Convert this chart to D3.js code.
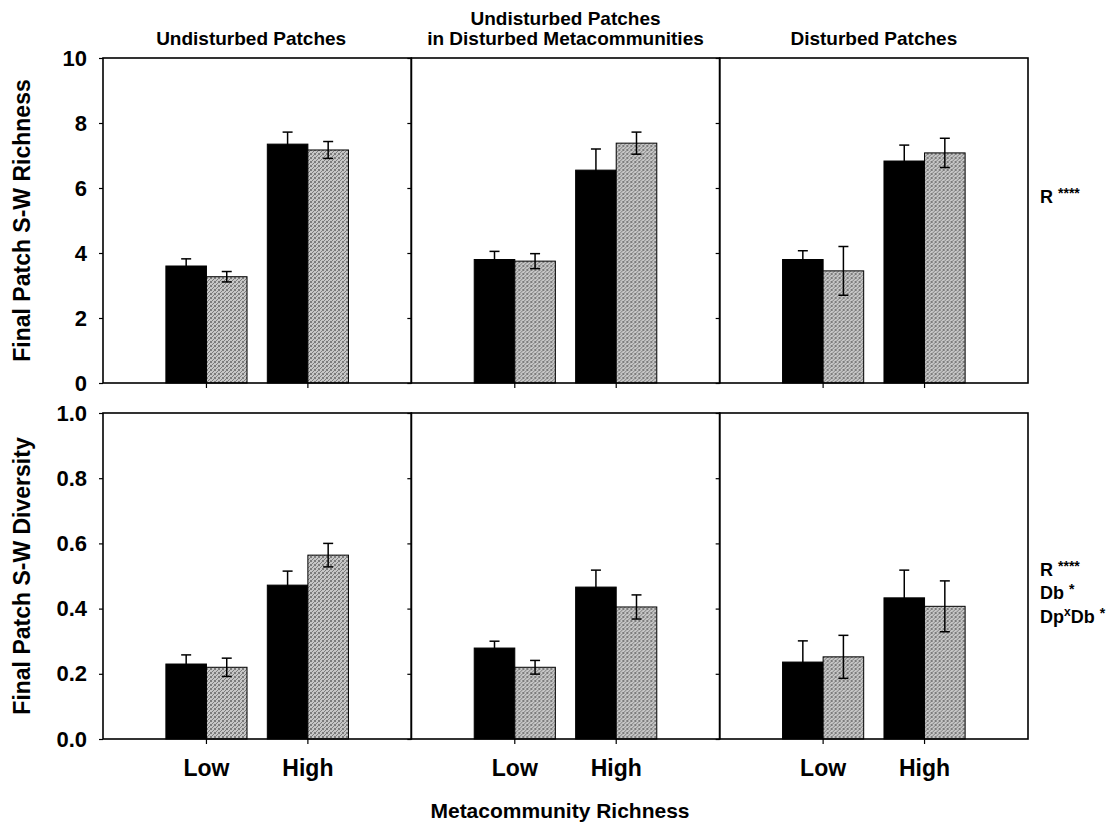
<!DOCTYPE html>
<html>
<head>
<meta charset="utf-8">
<script src="https://cdn.jsdelivr.net/npm/d3@7/dist/d3.min.js"></script>
<style>
  html, body { margin: 0; padding: 0; background: #fff; }
  svg text { font-family: "Liberation Sans", Arial, sans-serif; font-weight: bold; fill: #000; }
</style>
</head>
<body>
<svg id="chart" width="1119" height="827"></svg>
<script>
// ---------- DATA ----------
const panelTitles = [
  ["Undisturbed Patches"],
  ["Undisturbed Patches", "in Disturbed Metacommunities"],
  ["Disturbed Patches"]
];
const categories = ["Low", "High"];
const seriesKeys = ["black", "gray"];

// Final Patch S-W Richness, per panel [Low, High]
const richnessBlack    = [[3.60, 7.35], [3.80, 6.55], [3.80, 6.83]];
const richnessBlackErr = [[0.22, 0.37], [0.25, 0.65], [0.27, 0.49]];
const richnessGray     = [[3.27, 7.17], [3.75, 7.38], [3.45, 7.08]];
const richnessGrayErr  = [[0.16, 0.26], [0.23, 0.34], [0.75, 0.45]];

// Final Patch S-W Diversity, per panel [Low, High]
const diversityBlack    = [[0.230, 0.472], [0.279, 0.466], [0.236, 0.433]];
const diversityBlackErr = [[0.028, 0.043], [0.021, 0.052], [0.065, 0.085]];
const diversityGray     = [[0.220, 0.564], [0.220, 0.405], [0.252, 0.407]];
const diversityGrayErr  = [[0.028, 0.036], [0.021, 0.037], [0.066, 0.078]];

const richnessTicks = [0, 2, 4, 6, 8, 10];
const diversityTicks = [0, 0.2, 0.4, 0.6, 0.8, 1.0];

const yLabels = ["Final Patch S-W Richness", "Final Patch S-W Diversity"];
const xTitle = "Metacommunity Richness";

// ---------- LAYOUT ----------
const svg = d3.select("#chart");
const left = 103, right = 1028;
const pw = (right - left) / 3;
const rows = [
  { top: 58, h: 325, domain: [0, 10], ticks: richnessTicks, fmt: d3.format("d"),
    black: richnessBlack, blackErr: richnessBlackErr, gray: richnessGray, grayErr: richnessGrayErr, showX: false },
  { top: 413, h: 326, domain: [0, 1], ticks: diversityTicks, fmt: d3.format(".1f"),
    black: diversityBlack, blackErr: diversityBlackErr, gray: diversityGray, grayErr: diversityGrayErr, showX: true }
];

// stipple pattern for gray bars
const defs = svg.append("defs");
const pat = defs.append("pattern").attr("id", "stipple").attr("patternUnits", "userSpaceOnUse")
  .attr("width", 4).attr("height", 4);
pat.append("rect").attr("width", 4).attr("height", 4).attr("fill", "#c6c6c6");
[[0,0],[2,1],[1,2],[3,3],[3,0],[0,3]].forEach(([px,py]) =>
  pat.append("rect").attr("x", px).attr("y", py).attr("width", 1).attr("height", 1).attr("fill", "#7c7c7c"));

const x = d3.scaleBand().domain(categories).range([0, pw]).paddingInner(0.2).paddingOuter(0.62);
const xs = d3.scaleBand().domain(seriesKeys).range([0, x.bandwidth()]).padding(0);

rows.forEach((row, ri) => {
  const y = d3.scaleLinear().domain(row.domain).range([row.h, 0]);
  for (let p = 0; p < 3; p++) {
    const g = svg.append("g").attr("transform", `translate(${left + p * pw},${row.top})`);

    const bars = [];
    categories.forEach((c, ci) => {
      bars.push({ cat: c, key: "black", v: row.black[p][ci], e: row.blackErr[p][ci] });
      bars.push({ cat: c, key: "gray", v: row.gray[p][ci], e: row.grayErr[p][ci] });
    });

    // bars
    g.selectAll("rect.bar").data(bars).join("rect")
      .attr("class", "bar")
      .attr("x", d => x(d.cat) + xs(d.key))
      .attr("width", xs.bandwidth())
      .attr("y", d => y(d.v))
      .attr("height", d => y(0) - y(d.v))
      .attr("fill", d => d.key === "black" ? "#000" : "url(#stipple)")
      .attr("stroke", "#000")
      .attr("stroke-width", 1);

    // error bars
    const eg = g.selectAll("g.err").data(bars).join("g").attr("class", "err")
      .attr("transform", d => `translate(${x(d.cat) + xs(d.key) + xs.bandwidth() / 2},0)`)
      .attr("stroke", "#000").attr("stroke-width", 1.5);
    eg.append("line").attr("y1", d => y(d.v + d.e)).attr("y2", d => y(d.v - d.e));
    eg.append("line").attr("x1", -5).attr("x2", 5).attr("y1", d => y(d.v + d.e)).attr("y2", d => y(d.v + d.e));
    eg.append("line").attr("x1", -5).attr("x2", 5).attr("y1", d => y(d.v - d.e)).attr("y2", d => y(d.v - d.e));

    // y axis
    const ya = g.append("g").call(d3.axisLeft(y).tickValues(row.ticks).tickSize(4).tickPadding(12)
      .tickFormat(p === 0 ? row.fmt : ""));
    ya.select(".domain").remove();
    ya.selectAll(".tick line").attr("stroke-width", 1.2);
    ya.selectAll("text").style("font-size", "22px");

    // x axis
    const xa = g.append("g").attr("transform", `translate(0,${row.h})`)
      .call(d3.axisBottom(x).tickSize(5).tickPadding(16).tickFormat(row.showX ? (d => d) : ""));
    xa.select(".domain").remove();
    xa.selectAll(".tick line").attr("stroke-width", 1.2);
    xa.selectAll("text").style("font-size", "23px");

    // frame
    g.append("rect").attr("width", pw).attr("height", row.h)
      .attr("fill", "none").attr("stroke", "#000").attr("stroke-width", 1.6);

    // titles
    if (ri === 0) {
      const lines = panelTitles[p];
      lines.forEach((t, li) => {
        g.append("text").attr("x", pw / 2 - (p === 0 ? 6 : 0))
          .attr("y", -13 - (lines.length - 1 - li) * 20)
          .attr("text-anchor", "middle").style("font-size", "19px").text(t);
      });
    }
  }

  // y label
  svg.append("text")
    .attr("transform", `translate(30,${row.top + row.h / 2}) rotate(-90)`)
    .attr("text-anchor", "middle").style("font-size", "23px").text(yLabels[ri]);
});

// x title
svg.append("text").attr("x", 560).attr("y", 818).attr("text-anchor", "middle")
  .style("font-size", "21px").text(xTitle);

// significance annotations
function stars(sel, base, st) {
  sel.append("tspan").text(base);
  sel.append("tspan").attr("dy", -5).style("font-size", "14px").text(st);
}
const a1 = svg.append("text").attr("x", 1040).attr("y", 203).style("font-size", "18px");
stars(a1, "R ", "****");
const a2 = svg.append("text").attr("x", 1040).attr("y", 576).style("font-size", "18px");
stars(a2, "R ", "****");
const a3 = svg.append("text").attr("x", 1040).attr("y", 599).style("font-size", "18px");
stars(a3, "Db ", "*");
const a4 = svg.append("text").attr("x", 1040).attr("y", 623).style("font-size", "18px");
a4.append("tspan").text("Dp");
a4.append("tspan").attr("dy", -7).style("font-size", "12px").text("x");
a4.append("tspan").attr("dy", 7).text("Db ");
a4.append("tspan").attr("dy", -5).style("font-size", "14px").text("*");
</script>
</body>
</html>
